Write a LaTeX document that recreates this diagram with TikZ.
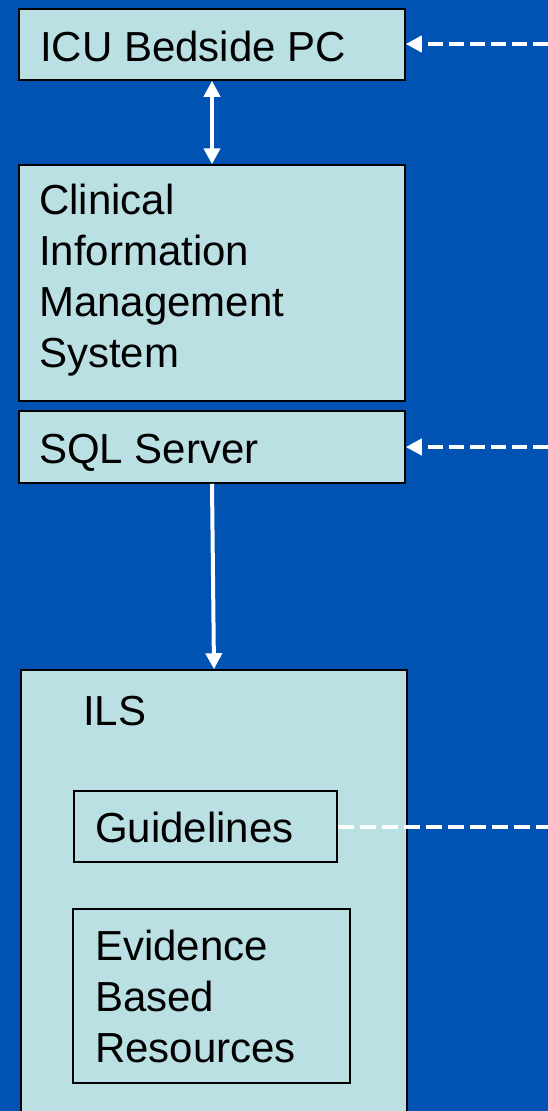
\documentclass[tikz,border=0pt]{standalone}
\usepackage{fontspec}
\setmainfont{Liberation Sans}
\usetikzlibrary{arrows.meta}
\definecolor{bgblue}{RGB}{0,83,178}
\definecolor{boxfill}{RGB}{186,224,227}
\tikzset{
  box/.style={draw=black, line width=1.5pt, fill=boxfill, inner sep=0pt, rectangle},
  lbl/.style={anchor=base west, inner sep=0pt, align=left, text=black,
    font=\fontsize{42}{51}\selectfont},
  solidarrow/.style={draw=white, line width=4pt, -{Triangle[width=16pt,length=16pt]}},
  dblarrow/.style={draw=white, line width=4pt, {Triangle[width=16pt,length=16pt]}-{Triangle[width=16pt,length=16pt]}},
  dasharrow/.style={draw=white, line width=4pt, dash pattern=on 15pt off 6pt, -{Triangle[width=16pt,length=16pt]}},
  dashline/.style={draw=white, line width=4pt, dash pattern=on 16pt off 6pt},
}
\begin{document}
\begin{tikzpicture}[x=1pt,y=-1pt]
\useasboundingbox (0,0) rectangle (548,1111);
\clip (0,0) rectangle (548,1111);
\fill[bgblue] (0,0) rectangle (548,1111);
% boxes
\node[box, minimum width=386pt, minimum height=71pt] (icu) at (212,44.5) {};
\node[box, minimum width=386pt, minimum height=236pt] (cims) at (212,283) {};
\node[box, minimum width=386pt, minimum height=72pt] (sql) at (212,447) {};
\node[box, minimum width=386pt, minimum height=470pt] (ils) at (214,905) {};
\node[box, minimum width=263pt, minimum height=71pt] (guide) at (205.5,826.5) {};
\node[box, minimum width=277pt, minimum height=174pt] (ebr) at (211.5,996) {};
% labels (base anchor = baseline of last line)
\node[lbl] (ticu) at (40,61) {ICU Bedside PC};
\node[lbl] (tcims) at (39,367) {Clinical\\Information\\Management\\System};
\node[lbl] (tsql) at (39,463) {SQL Server};
\node[lbl] (tils) at (83,725) {ILS};
\node[lbl] (tguide) at (95,842) {Guidelines};
\node[lbl] (tebr) at (95,1062) {Evidence\\Based\\Resources};
% free ends
\coordinate (e1) at (548,44);
\coordinate (e2) at (548,447);
\coordinate (e3) at (548,827);
% connectors
\draw[dblarrow] (icu.south) -- (cims.north);
\draw[solidarrow] (sql.south) -- (ils.north);
\draw[dasharrow] (e1) -- (icu.east |- e1);
\draw[dasharrow] (e2) -- (sql.east |- e2);
\draw[dashline] (guide.east |- e3) -- (e3);
\end{tikzpicture}
\end{document}
